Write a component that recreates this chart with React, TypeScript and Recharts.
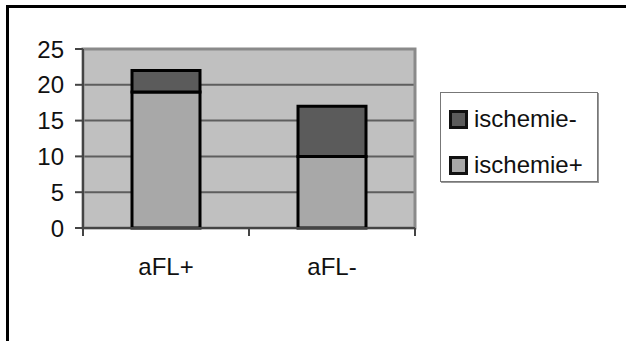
import React from "react";
import {
  BarChart,
  Bar,
  XAxis,
  YAxis,
  CartesianGrid,
  Legend,
  ReferenceArea,
} from "recharts";

// Categories and stacked counts
const groups = ["aFL+", "aFL-"];
const ischemiePlus = [19, 10];
const ischemieMinus = [3, 7];
const yTicks = [0, 5, 10, 15, 20, 25];

const data = groups.map((g, i) => ({
  group: g,
  plus: ischemiePlus[i],
  minus: ischemieMinus[i],
}));

const FONT = "'Liberation Sans', Arial, Helvetica, sans-serif";

const LIGHT = "#a8a8a8";
const DARK = "#5b5b5b";

const XTick = (props: any) => {
  const { x, y, payload, index } = props;
  const half = payload && payload.offset ? payload.offset : 83;
  return (
    <g>
      <line x1={x - half} y1={y - 8} x2={x - half} y2={y} stroke="#444" strokeWidth={2} />
      {index === groups.length - 1 && (
        <line x1={x + half} y1={y - 8} x2={x + half} y2={y} stroke="#444" strokeWidth={2} />
      )}
      <text x={x} y={y + 22} dy="0.71em" textAnchor="middle" fontFamily={FONT} fontSize={24} fill="#111">
        {payload.value}
      </text>
    </g>
  );
};

const LegendBox = () => {
  const items = [
    { label: "ischemie-", color: DARK },
    { label: "ischemie+", color: LIGHT },
  ];
  return (
    <div
      style={{
        width: 158,
        height: 90,
        border: "1px solid #777",
        boxShadow: "1px 1px 0 #999",
        background: "#fff",
        boxSizing: "border-box",
        fontFamily: FONT,
        fontSize: 24,
        color: "#111",
        paddingTop: 14,
      }}
    >
      {items.map((it, i) => (
        <div
          key={it.label}
          style={{
            display: "flex",
            alignItems: "center",
            height: 24,
            marginTop: i === 0 ? 0 : 22,
            paddingLeft: 8,
          }}
        >
          <div
            style={{
              width: 19,
              height: 19,
              boxSizing: "border-box",
              border: "3px solid #111",
              background: it.color,
              marginRight: 6,
            }}
          />
          <span style={{ lineHeight: "24px" }}>{it.label}</span>
        </div>
      ))}
    </div>
  );
};

export default function App() {
  return (
    <div
      style={{
        position: "fixed",
        left: 0,
        top: 0,
        width: 626,
        height: 341,
        background: "#fff",
        overflow: "hidden",
      }}
    >
      <div
        style={{
          position: "absolute",
          left: 6,
          top: 5,
          width: 640,
          height: 400,
          borderTop: "3px solid #000",
          borderLeft: "3px solid #000",
        }}
      />
      <div style={{ position: "absolute", left: 0, top: 0 }}>
        <BarChart
          width={626}
          height={341}
          data={data}
          margin={{ top: 49, right: 211, bottom: 0, left: 0 }}
          barSize={68}
        >
          <CartesianGrid
            vertical={false}
            horizontal={true}
            fill="#c0c0c0"
            stroke="#5e5e5e"
            strokeWidth={2}
            horizontalValues={[5, 10, 15, 20]}
          />
          <ReferenceArea y1={0} y2={25} fill="none" stroke="#8a8a8a" strokeWidth={3} ifOverflow="visible" />
          <XAxis
            dataKey="group"
            axisLine={{ stroke: "#444", strokeWidth: 2 }}
            tickLine={false}
            tick={<XTick />}
            height={113}
            interval={0}
          />
          <YAxis
            domain={[0, 25]}
            ticks={yTicks}
            width={83}
            tickSize={8}
            tickMargin={11}
            axisLine={{ stroke: "#444", strokeWidth: 2 }}
            tickLine={{ stroke: "#444", strokeWidth: 2 }}
            tick={{ fontFamily: FONT, fontSize: 24, fill: "#111" }}
          />
          <Legend
            layout="vertical"
            align="center"
            verticalAlign="middle"
            wrapperStyle={{ left: 440, top: 92, width: 158, height: 90 }}
            content={<LegendBox />}
          />
          <Bar dataKey="plus" stackId="s" fill={LIGHT} stroke="#000" strokeWidth={3} isAnimationActive={false} />
          <Bar dataKey="minus" stackId="s" fill={DARK} stroke="#000" strokeWidth={3} isAnimationActive={false} />
        </BarChart>
      </div>
    </div>
  );
}
